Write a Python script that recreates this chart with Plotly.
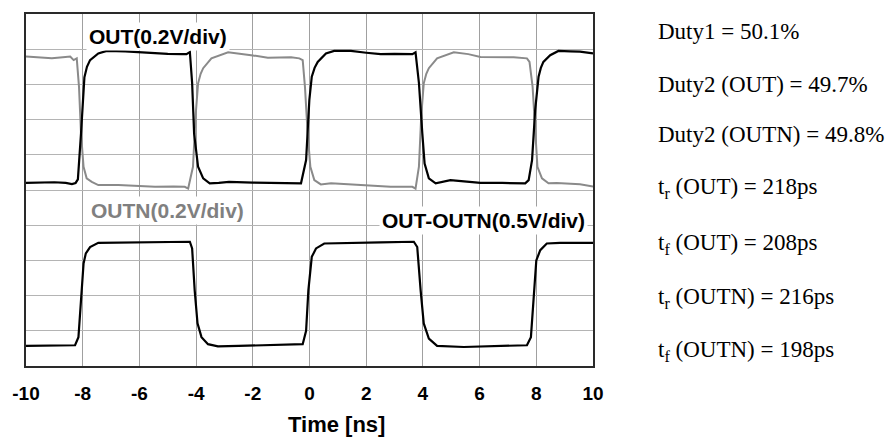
import plotly.graph_objects as go

# ---------------- data (values in grid divisions, time in ns) ----------------
out_t = [-10, -9.5, -9.0, -8.6, -8.38, -8.25, -8.17, -8.06, -7.94, -7.85, -7.74, -7.45, -7.15,
         -6.5, -6.0, -5.5, -5.0, -4.5, -4.34, -4.22, -4.14, -4.07, -3.93, -3.75, -3.52,
         -3.2, -2.84, -2.0, -1.5, -1.0, -0.5, -0.30, -0.12, -0.006, 0.08, 0.18, 0.29, 0.58,
         0.87, 1.46, 2.0, 2.51, 3.0, 3.63, 3.74, 3.86, 3.98, 4.06, 4.21, 4.45, 4.97,
         5.5, 6.03, 6.8, 7.61, 7.73, 7.85, 7.96, 8.08, 8.16, 8.25, 8.49, 8.78, 9.2, 9.54, 10]
out_v = [5.20, 5.21, 5.22, 5.20, 5.17, 5.20, 5.30, 6.60, 8.20, 8.50, 8.69, 8.88, 8.95,
         8.94, 8.91, 8.89, 8.87, 8.86, 8.86, 8.92, 8.04, 6.60, 5.66, 5.33, 5.19,
         5.20, 5.23, 5.21, 5.20, 5.21, 5.20, 5.19, 5.85, 7.55, 8.22, 8.47, 8.64, 8.88,
         8.95, 8.95, 8.90, 8.86, 8.87, 8.86, 8.91, 8.04, 6.60, 5.75, 5.33, 5.19, 5.28,
         5.24, 5.20, 5.20, 5.19, 5.28, 5.85, 7.27, 8.22, 8.47, 8.64, 8.83, 8.95, 8.94, 8.93, 8.88]

outn_t = [-10, -9.5, -9.09, -8.7, -8.44, -8.32, -8.21, -8.13, -8.06, -7.97, -7.86, -7.68,
          -7.45, -6.74, -6.0, -5.45, -4.8, -4.40, -4.28, -4.11, -4.02, -3.93, -3.84, -3.75, -3.46,
          -2.87, -2.06, -1.47, -0.65, -0.36, -0.24, -0.16, -0.065, 0.03, 0.17, 0.40, 0.76,
          1.3, 1.93, 2.86, 3.63, 3.74, 3.86, 3.94, 4.03, 4.12, 4.21, 4.5, 5.09, 5.6, 6.03, 6.6,
          7.2, 7.67, 7.76, 7.87, 7.96, 8.04, 8.2, 8.43, 8.72, 9.1, 9.54, 10]
outn_v = [8.79, 8.77, 8.74, 8.77, 8.79, 8.69, 8.74, 7.93, 6.61, 5.66, 5.33, 5.23,
          5.14, 5.14, 5.12, 5.09, 5.10, 5.09, 5.04, 5.66, 7.08, 8.03, 8.30, 8.46, 8.74,
          8.91, 8.83, 8.76, 8.77, 8.74, 8.69, 7.93, 6.61, 5.66, 5.28, 5.16, 5.19,
          5.16, 5.14, 5.09, 5.09, 5.04, 5.66, 7.08, 8.03, 8.30, 8.46, 8.74, 8.91, 8.86, 8.78, 8.77,
          8.77, 8.74, 8.64, 7.93, 6.61, 5.66, 5.33, 5.19, 5.20, 5.18, 5.16, 5.10]

diff_t = [-10, -9.3, -8.8, -8.27, -8.15, -8.07, -7.97, -7.89, -7.74, -7.45, -6.3, -5.2,
          -4.22, -4.14, -4.05, -3.95, -3.81, -3.58, -3.23, -2.5, -1.6, -1.0, -0.24, -0.12,
          -0.04, 0.08, 0.23, 0.52, 1.34, 2.5, 3.68, 3.80, 3.92, 4.03, 4.21, 4.50, 5.44,
          6.5, 7.67, 7.81, 7.90, 8.00, 8.14, 8.37, 8.84, 10]
diff_v = [0.57, 0.58, 0.59, 0.59, 0.82, 1.87, 2.91, 3.20, 3.38, 3.50, 3.51, 3.52,
          3.53, 3.34, 2.15, 1.21, 0.82, 0.62, 0.56, 0.57, 0.59, 0.59, 0.62, 1.00,
          2.15, 3.10, 3.34, 3.48, 3.50, 3.51, 3.53, 3.38, 2.15, 1.21, 0.78, 0.57, 0.54,
          0.56, 0.59, 0.82, 1.96, 3.00, 3.29, 3.48, 3.50, 3.50]

x_tickvals = [-10, -8, -6, -4, -2, 0, 2, 4, 6, 8, 10]
x_ticktext = ["-10", "-8", "-6", "-4", "-2", "0", "2", "4", "6", "8", "10"]

trace_labels = ["OUT(0.2V/div)", "OUTN(0.2V/div)", "OUT-OUTN(0.5V/div)"]
stats_text = [
    "Duty1 = 50.1%",
    "Duty2 (OUT) = 49.7%",
    "Duty2 (OUTN) = 49.8%",
    "t<sub>r</sub> (OUT) = 218ps",
    "t<sub>f</sub> (OUT) = 208ps",
    "t<sub>r</sub> (OUTN) = 216ps",
    "t<sub>f</sub> (OUTN) = 198ps",
]
stats_ypx = [31.3, 84.7, 134.7, 188.3, 244, 297.5, 351]

# ---------------- figure ----------------
W, H = 893, 439
ML, MR, MT, MB = 24, 300, 14, 73
PW, PH = W - ML - MR, H - MT - MB

fig = go.Figure()
fig.add_trace(go.Scatter(x=outn_t, y=outn_v, mode="lines",
                         line=dict(color="#8a8a8a", width=2), hoverinfo="skip"))
fig.add_trace(go.Scatter(x=out_t, y=out_v, mode="lines",
                         line=dict(color="#000000", width=2.2), hoverinfo="skip"))
fig.add_trace(go.Scatter(x=diff_t, y=diff_v, mode="lines",
                         line=dict(color="#000000", width=2.2), hoverinfo="skip"))

label_font = dict(family="Liberation Sans, Arial", size=21)
annotations = [
    dict(x=-5.34, y=9.35, xref="x", yref="y", text="<b>" + trace_labels[0] + "</b>",
         showarrow=False, font=dict(label_font, color="#000000"), bgcolor="white",
         borderpad=2),
    dict(x=-5.0, y=4.43, xref="x", yref="y", text="<b>" + trace_labels[1] + "</b>",
         showarrow=False, font=dict(label_font, color="#808080"), bgcolor="white",
         borderpad=2),
    dict(x=6.12, y=4.14, xref="x", yref="y", text="<b>" + trace_labels[2] + "</b>",
         showarrow=False, font=dict(label_font, color="#000000"), bgcolor="white",
         borderpad=2),
    dict(x=(336 - ML) / PW, y=(PH + MT - 424) / PH, xref="paper", yref="paper",
         xanchor="center", yanchor="middle",
         text="<b>Time [ns]</b>", showarrow=False,
         font=dict(family="Liberation Sans, Arial", size=22, color="#000000")),
]
for txt, ypx in zip(stats_text, stats_ypx):
    annotations.append(dict(
        x=(656 - ML) / PW, y=(PH + MT - ypx) / PH, xref="paper", yref="paper",
        xanchor="left", yanchor="middle", text=txt, showarrow=False,
        font=dict(family="Liberation Serif, Times New Roman", size=23, color="#000000")))

fig.update_layout(
    width=W, height=H,
    margin=dict(l=ML, r=MR, t=MT, b=MB, pad=0),
    paper_bgcolor="white", plot_bgcolor="white",
    showlegend=False,
    annotations=annotations,
)
fig.update_xaxes(range=[-10, 10], tickvals=x_tickvals, ticktext=x_ticktext,
                 showgrid=True, gridcolor="#a0a0a0", gridwidth=1,
                 showline=True, linecolor="#2a2a2a", linewidth=2, mirror=True,
                 zeroline=False, ticks="", ticklabelstandoff=9,
                 tickfont=dict(family="Liberation Sans, Arial", size=19,
                               color="#000000", weight="bold"))
fig.update_yaxes(range=[0, 10], dtick=1, showticklabels=False,
                 showgrid=True, gridcolor="#b4b4b4", gridwidth=1,
                 showline=True, linecolor="#2a2a2a", linewidth=2, mirror=True,
                 zeroline=False, ticks="")

fig.write_html("out.html")
